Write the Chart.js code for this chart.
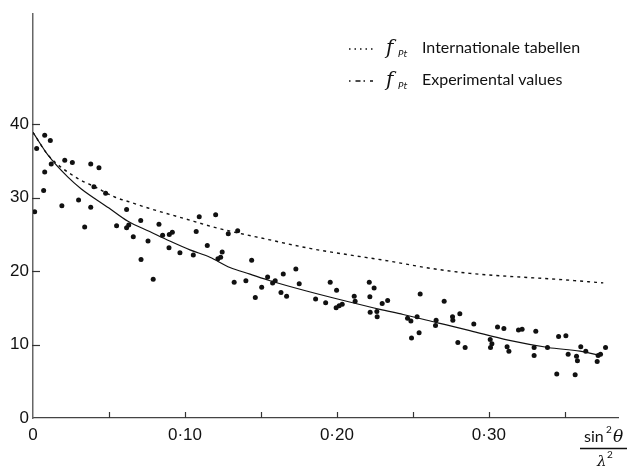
<!DOCTYPE html>
<html>
<head>
<meta charset="utf-8">
<script src="https://cdn.jsdelivr.net/npm/chart.js@4.4.1/dist/chart.umd.min.js"></script>
<style>
  html, body { margin: 0; padding: 0; background: #fff; }
  #wrap { width: 630px; height: 468px; position: relative; }
</style>
</head>
<body>
<div id="wrap"><canvas id="chart"></canvas></div>
<script>
// measured points (sin^2 theta / lambda^2, f)
const dotX = [0.0077, 0.0114, 0.0024, 0.012, 0.0077, 0.007, 0.0011, 0.0209, 0.0259, 0.038,
  0.0434, 0.0401, 0.0478, 0.030, 0.019, 0.038, 0.0616, 0.034, 0.055, 0.0616,
  0.063, 0.0709, 0.066, 0.0757, 0.0711, 0.0829, 0.0853, 0.0897, 0.0917, 0.0895,
  0.0967, 0.1055, 0.1094, 0.1202, 0.1074, 0.1147, 0.1245, 0.1235, 0.1217, 0.1285,
  0.1347, 0.1439, 0.0791, 0.1324, 0.1401, 0.1505, 0.1463, 0.1544, 0.1577, 0.1594,
  0.1647, 0.173, 0.1752, 0.1632, 0.1669, 0.186, 0.1926, 0.1956, 0.1998, 0.2035,
  0.2015, 0.1995, 0.2114, 0.212, 0.2213, 0.2245, 0.2217, 0.2298, 0.2334, 0.2219,
  0.2263, 0.2265, 0.2548, 0.2706, 0.2465, 0.2487, 0.2528, 0.2491, 0.2541, 0.2653,
  0.2649, 0.2761, 0.2763, 0.2809, 0.2796, 0.2844, 0.2901, 0.3009, 0.302, 0.3011,
  0.3057, 0.3099, 0.312, 0.3132, 0.3195, 0.3219, 0.3309, 0.3459, 0.3507, 0.3298,
  0.3298, 0.3386, 0.3522, 0.3605, 0.3577, 0.3583, 0.3638, 0.3719, 0.3713, 0.3735,
  0.3768, 0.3447, 0.3568];
const dotY = [38.5, 37.8, 36.7, 34.6, 33.5, 31.0, 28.1, 35.1, 34.8, 34.6,
  34.1, 31.5, 30.6, 29.7, 28.9, 28.7, 28.4, 26.0, 26.2, 25.9,
  26.3, 26.9, 24.7, 24.1, 21.6, 26.4, 24.9, 25.0, 25.3, 23.2,
  22.5, 22.2, 27.4, 27.7, 25.4, 23.5, 22.6, 21.9, 21.7, 25.1,
  25.5, 21.5, 18.9, 18.5, 18.7, 17.8, 16.4, 19.2, 18.4, 18.7,
  19.6, 20.3, 18.3, 17.1, 16.6, 16.2, 15.7, 18.5, 17.4, 15.5,
  15.3, 15.0, 16.6, 15.9, 18.5, 17.7, 16.5, 15.6, 16.0, 14.4,
  14.5, 13.8, 16.9, 15.9, 13.6, 13.2, 13.8, 10.9, 11.6, 13.3,
  12.6, 13.8, 13.3, 14.2, 10.3, 9.6, 12.8, 10.7, 10.1, 9.6,
  12.4, 12.2, 9.7, 9.1, 12.0, 12.1, 11.8, 11.1, 11.2, 9.6,
  8.5, 9.6, 8.7, 9.7, 8.4, 7.8, 9.1, 8.5, 7.7, 8.7,
  9.6, 6.0, 5.9];

// Internationale tabellen curve
const tabX = [0, 0.01, 0.0296, 0.0406, 0.0537, 0.064, 0.0757, 0.099, 0.1208, 0.155,
  0.1822, 0.2086, 0.2337, 0.2612, 0.2875, 0.3127, 0.3445, 0.3753];
const tabY = [38.9, 35.8, 32.6, 31.5, 30.1, 29.4, 28.6, 27.2, 25.9, 24.3,
  23.1, 22.2, 21.4, 20.4, 19.7, 19.3, 18.9, 18.4];

// experimental curve
const expX = [0, 0.0099, 0.023, 0.0318, 0.05, 0.0625, 0.0768, 0.09, 0.1033, 0.1164,
  0.1296, 0.1428, 0.156, 0.18, 0.2064, 0.2283, 0.2436, 0.2656, 0.2875, 0.3127,
  0.339, 0.36, 0.374];
const expY = [38.9, 35.8, 32.8, 31.2, 28.6, 26.8, 25.4, 24.1, 22.9, 21.9,
  20.5, 19.6, 18.7, 17.3, 15.9, 14.8, 14.1, 13.0, 11.9, 10.6,
  9.6, 9.1, 8.5];

const xTickVals = [0, 0.1, 0.2, 0.3];
const xTickLabels = ['0', '0·10', '0·20', '0·30'];
const xMinorTicks = [0.05, 0.1, 0.15, 0.2, 0.25, 0.3, 0.35];
const yTickVals = [0, 10, 20, 30, 40];

const pts = (xs, ys) => xs.map((x, i) => ({ x: x, y: ys[i] }));

const ink = '#111';

// inward tick marks, legend and axis title
const extras = {
  id: 'extras',
  afterDraw(chart) {
    const ctx = chart.ctx;
    const xs = chart.scales.x, ys = chart.scales.y;
    const area = chart.chartArea;
    ctx.save();
    ctx.strokeStyle = '#333';
    ctx.lineWidth = 1.2;
    yTickVals.slice(1).forEach(v => {
      const py = Math.round(ys.getPixelForValue(v)) + 0.5;
      ctx.beginPath();
      ctx.moveTo(area.left - 1, py);
      ctx.lineTo(area.left + 7, py);
      ctx.stroke();
    });
    xMinorTicks.forEach(v => {
      const px = Math.round(xs.getPixelForValue(v)) + 0.5;
      ctx.beginPath();
      ctx.moveTo(px, area.bottom);
      ctx.lineTo(px, area.bottom - 6);
      ctx.stroke();
    });

    // legend
    const rows = [
      { y: 48, dash: [1.5, 4], text: 'Internationale tabellen' },
      { y: 80, dash: [1.5, 5, 5, 3], text: 'Experimental values' }
    ];
    rows.forEach(r => {
      ctx.strokeStyle = ink;
      ctx.lineWidth = 1.3;
      ctx.setLineDash(r.dash);
      ctx.beginPath();
      ctx.moveTo(349, r.y + 1);
      ctx.lineTo(373, r.y + 1);
      ctx.stroke();
      ctx.setLineDash([]);
      ctx.fillStyle = ink;
      ctx.textBaseline = 'middle';
      ctx.textAlign = 'left';
      ctx.font = 'italic 20px "DejaVu Serif"';
      ctx.fillText('f', 386, r.y + 1);
      ctx.font = 'italic 9px "DejaVu Sans"';
      ctx.fillText('Pt', 398, r.y + 7);
      ctx.font = '16px Lato';
      ctx.fillText(r.text, 422, r.y);
    });

    // axis title sin^2 theta / lambda^2
    ctx.fillStyle = ink;
    ctx.textBaseline = 'alphabetic';
    ctx.textAlign = 'left';
    ctx.font = '16px Lato';
    ctx.fillText('sin', 584, 442);
    ctx.font = '10px Lato';
    ctx.fillText('2', 606, 433);
    ctx.font = 'italic 17px "DejaVu Serif"';
    ctx.fillText('θ', 613, 442);
    ctx.strokeStyle = ink;
    ctx.lineWidth = 1.3;
    ctx.beginPath();
    ctx.moveTo(580, 448.5);
    ctx.lineTo(627, 448.5);
    ctx.stroke();
    ctx.font = 'italic 15px "DejaVu Serif"';
    ctx.fillText('λ', 597, 466);
    ctx.font = '10px Lato';
    ctx.fillText('2', 607, 458);
    ctx.restore();
  }
};

new Chart(document.getElementById('chart'), {
  type: 'scatter',
  data: {
    datasets: [
      {
        label: 'Experimental values',
        data: pts(expX, expY),
        showLine: true,
        borderColor: ink,
        borderWidth: 1.2,
        pointRadius: 0,
        cubicInterpolationMode: 'monotone',
        order: 2
      },
      {
        label: 'Internationale tabellen',
        data: pts(tabX, tabY),
        showLine: true,
        borderColor: ink,
        borderWidth: 1.4,
        borderDash: [3, 4],
        pointRadius: 0,
        cubicInterpolationMode: 'monotone',
        order: 3
      },
      {
        label: 'measured',
        data: pts(dotX, dotY),
        showLine: false,
        pointRadius: 2.5,
        pointBackgroundColor: ink,
        pointBorderWidth: 0,
        order: 1
      }
    ]
  },
  options: {
    responsive: true,
    maintainAspectRatio: false,
    animation: false,
    layout: { padding: { top: 11, right: 12, left: 0, bottom: 0 } },
    plugins: { legend: { display: false }, tooltip: { enabled: false } },
    scales: {
      x: {
        type: 'linear',
        min: 0,
        max: 0.385,
        afterFit(scale) { scale.height = 50; },
        afterBuildTicks(scale) { scale.ticks = xTickVals.map(v => ({ value: v })); },
        border: { display: true, color: '#444', width: 1.3, dash: [14, 5, 3, 6] },
        grid: { display: false, drawTicks: false },
        ticks: {
          color: ink,
          padding: 7,
          maxRotation: 0,
          font: { family: 'Liberation Sans', size: 17 },
          callback: (v) => xTickLabels[xTickVals.indexOf(v)]
        }
      },
      y: {
        type: 'linear',
        min: 0,
        max: 55,
        afterFit(scale) { scale.width = 33; },
        afterBuildTicks(scale) { scale.ticks = yTickVals.map(v => ({ value: v })); },
        border: { display: true, color: '#666', width: 1.5, dash: [12, 3, 2, 3] },
        grid: { display: false, drawTicks: false },
        ticks: {
          color: ink,
          padding: 4,
          font: { family: 'Liberation Sans', size: 17 }
        }
      }
    }
  },
  plugins: [extras]
});
</script>
</body>
</html>
